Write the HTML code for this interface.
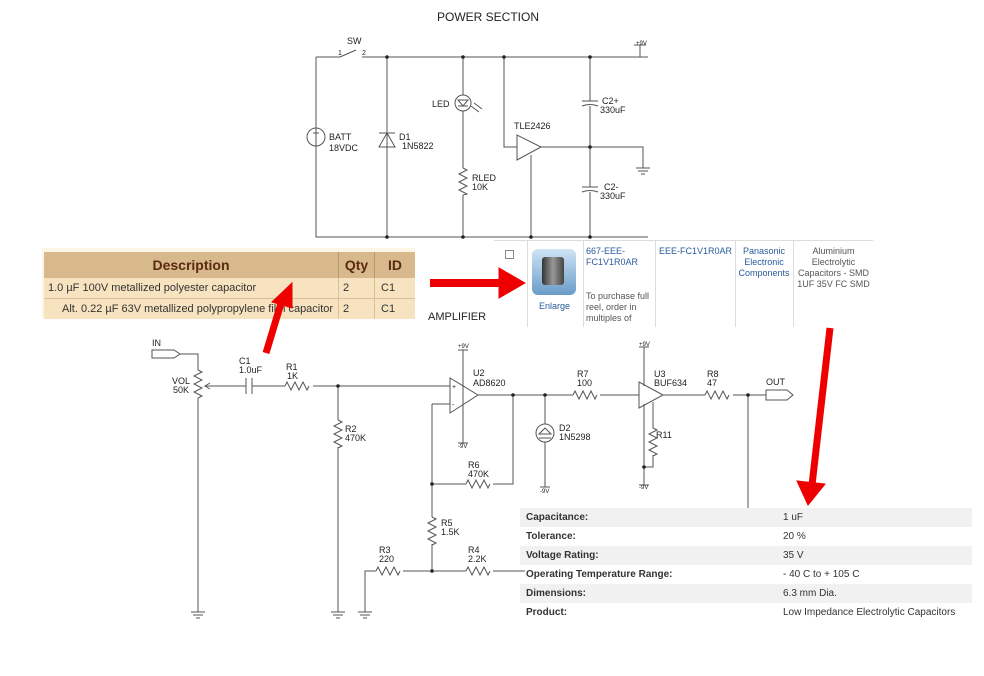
<!DOCTYPE html>
<html><head><meta charset="utf-8"><style>
body{margin:0;background:#fff;width:984px;height:676px;overflow:hidden;position:relative;font-family:"Liberation Sans",Arial,sans-serif}
svg{position:absolute;left:0;top:0}
.t{font-family:"Liberation Sans",Arial,sans-serif;font-size:9px;fill:#222}
.abs{position:absolute}
</style></head><body>
<svg width="984" height="676" viewBox="0 0 984 676">
<g stroke="#555" stroke-width="1" fill="none">
<!-- POWER -->
<path d="M316 57 H340 M362 57 H648 M340 57 L356 50 M316 57 V237 H648"/>
<circle cx="316" cy="137" r="9"/>
<path d="M316 130 v5 M313 133 h6 M316 140 v4"/>
<path d="M387 57 V237 M379 133 h16 M379 147 h16 l-8 -14 z"/>
<path d="M463 57 V95 M463 111 V168 M463 195 V237"/>
<circle cx="463" cy="103" r="8"/>
<path d="M458 100 h10 l-5 6 z M458 106 h10 M471 106 l8 6 M474 103 l8 6"/>
<path d="M463 168 l4 2 l-8 4 l8 4 l-8 4 l8 4 l-8 4 l8 4 l-4 1"/>
<path d="M504 57 V147 H517 M517 135 V160 L541 147 Z M541 147 H643 V168 M636 168 h14 M638 171 h10 M641 174 h4 M531 155 V237"/>
<path d="M590 57 V101 M582 101 h16 M582 106 q8 -3 16 0 M590 106 V187 M582 187 h16 M582 192 q8 -3 16 0 M590 192 V237"/>
<path d="M640 45 V57 M634 45 h12"/>
<!-- AMPLIFIER -->
<path d="M152 350 h22 l6 4 l-6 4 h-22 z M180 354 H198 V370 M198 398 V612 M191 612 h14 M193 615 h10 M196 618 h4"/>
<path d="M198 370 l4 2 l-8 4 l8 4 l-8 4 l8 4 l-8 4 l8 4 l-4 2"/>
<path d="M246 386 H205 l5 -3 M205 386 l5 3 M246 378 v16 M252 378 v16 M252 386 H285 M313 386 H450"/>
<path d="M285 386 l2 -4 l4 8 l4 -8 l4 8 l4 -8 l4 8 l2 -4"/>
<path d="M338 386 V420 M338 447 V612 M331 612 h14 M333 615 h10 M336 618 h4"/>
<path d="M338 420 l4 2 l-8 4 l8 4 l-8 4 l8 4 l-8 4 l8 4 l-4 2"/>
<path d="M450 378 V413 L478 395 Z M432 404 H450 M463 350 V443 M458 350 h10 M458 443 h10"/>
<path d="M478 395 H573 M513 395 V484 H493 M466 484 H432 V404 M432 484 V517 M432 544 V571"/>
<path d="M466 484 l2 -4 l4 8 l4 -8 l4 8 l4 -8 l4 8 l2 -4"/>
<path d="M432 517 l4 2 l-8 4 l8 4 l-8 4 l8 4 l-8 4 l8 4 l-4 2"/>
<path d="M365 612 V571 H376 M403 571 H466 M493 571 H525 M358 612 h14 M360 615 h10 M363 618 h4"/>
<path d="M376 571 l2 -4 l4 8 l4 -8 l4 8 l4 -8 l4 8 l2 -4"/>
<path d="M466 571 l2 -4 l4 8 l4 -8 l4 8 l4 -8 l4 8 l2 -4"/>
<path d="M545 395 V424 M545 442 V487 M540 487 h10"/>
<circle cx="545" cy="433" r="9"/>
<path d="M539 434 h12 l-6 -6 z M539 438 h12"/>
<path d="M573 395 l2 -4 l4 8 l4 -8 l4 8 l4 -8 l4 8 l2 -4 M600 395 H639"/>
<path d="M639 382 V408 L663 395 Z M644 347 V386 M639 347 h10 M644 404 V485 M639 485 h10 M653 402 V428 M653 455 V467 H644"/>
<path d="M653 428 l4 2 l-8 4 l8 4 l-8 4 l8 4 l-8 4 l8 4 l-4 2"/>
<path d="M663 395 H705 M733 395 H766 M748 395 V510 M766 390 h21 l6 5 l-6 5 h-21 z"/>
<path d="M705 395 l2 -4 l4 8 l4 -8 l4 8 l4 -8 l4 8 l2 -4"/>
</g>
<g fill="#222">
<circle cx="387" cy="57" r="1.8"/><circle cx="463" cy="57" r="1.8"/><circle cx="504" cy="57" r="1.8"/><circle cx="590" cy="57" r="1.8"/>
<circle cx="387" cy="237" r="1.8"/><circle cx="463" cy="237" r="1.8"/><circle cx="531" cy="237" r="1.8"/><circle cx="590" cy="237" r="1.8"/><circle cx="590" cy="147" r="1.8"/>
<circle cx="338" cy="386" r="1.8"/><circle cx="513" cy="395" r="1.8"/><circle cx="545" cy="395" r="1.8"/><circle cx="432" cy="484" r="1.8"/><circle cx="432" cy="571" r="1.8"/><circle cx="644" cy="467" r="1.8"/><circle cx="748" cy="395" r="1.8"/>
</g>
<g class="t">
<text x="437" y="21" font-size="12">POWER SECTION</text>
<text x="347" y="44">SW</text><text x="338" y="55" font-size="7">1</text><text x="362" y="55" font-size="7">2</text>
<text x="636" y="45" font-size="6">+9V</text>
<text x="329" y="140">BATT</text><text x="329" y="151">18VDC</text>
<text x="399" y="140">D1</text><text x="402" y="149">1N5822</text>
<text x="432" y="107">LED</text>
<text x="472" y="181">RLED</text><text x="472" y="190">10K</text>
<text x="514" y="129">TLE2426</text>
<text x="602" y="104">C2+</text><text x="600" y="113">330uF</text>
<text x="604" y="190">C2-</text><text x="600" y="199">330uF</text>
<text x="428" y="320" font-size="11">AMPLIFIER</text>
<text x="152" y="346">IN</text>
<text x="172" y="384">VOL</text><text x="173" y="393">50K</text>
<text x="239" y="364">C1</text><text x="239" y="373">1.0uF</text>
<text x="286" y="370">R1</text><text x="287" y="379">1K</text>
<text x="345" y="432">R2</text><text x="345" y="441">470K</text>
<text x="458" y="348" font-size="6">+9V</text><text x="458" y="448" font-size="6">-9V</text>
<text x="473" y="376">U2</text><text x="473" y="386">AD8620</text>
<text x="452" y="389" font-size="7">+</text><text x="452" y="407" font-size="7">-</text>
<text x="468" y="468">R6</text><text x="468" y="477">470K</text>
<text x="441" y="526">R5</text><text x="441" y="535">1.5K</text>
<text x="379" y="553">R3</text><text x="379" y="562">220</text>
<text x="468" y="553">R4</text><text x="468" y="562">2.2K</text>
<text x="559" y="431">D2</text><text x="559" y="440">1N5298</text>
<text x="540" y="493" font-size="6">-9V</text>
<text x="577" y="377">R7</text><text x="577" y="386">100</text>
<text x="639" y="346" font-size="6">+9V</text><text x="639" y="489" font-size="6">-9V</text>
<text x="654" y="377">U3</text><text x="654" y="386">BUF634</text>
<text x="656" y="438">R11</text>
<text x="707" y="377">R8</text><text x="707" y="386">47</text>
<text x="766" y="385">OUT</text>
</g>
</svg>

<div class="abs" style="left:42px;top:248px;width:373px;height:70px;background:#fdf5e6"></div>
<div class="abs" style="left:44px;top:252px;width:371px;height:66px;font-size:11px;color:#333">
 <div style="display:flex;height:26px;background:#d8b98c;font-weight:bold;font-size:14px;color:#5a2a10;line-height:26px">
  <div style="width:294px;text-align:center;border-right:1px solid #b89a70">Description</div>
  <div style="width:35px;text-align:center;border-right:1px solid #b89a70">Qty</div>
  <div style="width:40px;text-align:center">ID</div></div>
 <div style="display:flex;height:20px;background:#f7e3bf;line-height:20px;border-bottom:1px solid #d8c09a">
  <div style="width:290px;padding-left:4px;border-right:1px solid #d8c09a">1.0 µF 100V metallized polyester capacitor</div>
  <div style="width:31px;padding-left:4px;border-right:1px solid #d8c09a">2</div><div style="padding-left:6px">C1</div></div>
 <div style="display:flex;height:20px;background:#f7e3bf;line-height:20px">
  <div style="width:276px;padding-left:18px;border-right:1px solid #d8c09a">Alt. 0.22 µF 63V metallized polypropylene film capacitor</div>
  <div style="width:31px;padding-left:4px;border-right:1px solid #d8c09a">2</div><div style="padding-left:6px">C1</div></div>
</div>

<div class="abs" style="left:494px;top:240px;width:379px;height:87px;background:#fff;font-size:9px;color:#2a5a9a;line-height:11px">
 <div class="abs" style="left:0;top:0;width:379px;height:87px;border-top:1px solid #ddd"></div>
 <div class="abs" style="left:33px;top:0;width:1px;height:87px;background:#ddd"></div>
 <div class="abs" style="left:89px;top:0;width:1px;height:87px;background:#ddd"></div>
 <div class="abs" style="left:161px;top:0;width:1px;height:87px;background:#ddd"></div>
 <div class="abs" style="left:241px;top:0;width:1px;height:87px;background:#ddd"></div>
 <div class="abs" style="left:299px;top:0;width:1px;height:87px;background:#ddd"></div>
 <div class="abs" style="left:11px;top:10px;width:7px;height:7px;border:1px solid #888"></div>
 <div class="abs" style="left:38px;top:9px;width:44px;height:46px;border-radius:6px;background:linear-gradient(#cfe4f5,#6a9cc8)"></div>
 <div class="abs" style="left:48px;top:17px;width:22px;height:28px;border-radius:3px;background:linear-gradient(90deg,#333,#999,#444)"></div>
 <div class="abs" style="left:45px;top:61px">Enlarge</div>
 <div class="abs" style="left:92px;top:6px">667-EEE-<br>FC1V1R0AR</div>
 <div class="abs" style="left:92px;top:51px;color:#555">To purchase full<br>reel, order in<br>multiples of</div>
 <div class="abs" style="left:165px;top:6px">EEE-FC1V1R0AR</div>
 <div class="abs" style="left:242px;top:6px;width:56px;text-align:center">Panasonic<br>Electronic<br>Components</div>
 <div class="abs" style="left:300px;top:6px;width:79px;text-align:center;color:#555">Aluminium<br>Electrolytic<br>Capacitors - SMD<br>1UF 35V FC SMD</div>
</div>

<div class="abs" style="left:520px;top:508px;width:452px;font-size:10px;color:#333">
 <div style="height:19px;line-height:19px;background:#f1f1f1;display:flex"><b style="width:257px;padding-left:6px">Capacitance:</b><span>1 uF</span></div>
 <div style="height:19px;line-height:19px;display:flex"><b style="width:257px;padding-left:6px">Tolerance:</b><span>20 %</span></div>
 <div style="height:19px;line-height:19px;background:#f1f1f1;display:flex"><b style="width:257px;padding-left:6px">Voltage Rating:</b><span>35 V</span></div>
 <div style="height:19px;line-height:19px;display:flex"><b style="width:257px;padding-left:6px">Operating Temperature Range:</b><span>- 40 C to + 105 C</span></div>
 <div style="height:19px;line-height:19px;background:#f1f1f1;display:flex"><b style="width:257px;padding-left:6px">Dimensions:</b><span>6.3 mm Dia.</span></div>
 <div style="height:19px;line-height:19px;display:flex"><b style="width:257px;padding-left:6px">Product:</b><span>Low Impedance Electrolytic Capacitors</span></div>
</div>

<svg width="984" height="676" viewBox="0 0 984 676">
<g fill="#ee0000" stroke="#ee0000">
<path d="M266 353 L282 300" stroke-width="7"/><path d="M292 283 L272 302 L292 308 Z"/>
<path d="M430 283 H505" stroke-width="8"/><path d="M525 283 L499 268 L499 298 Z"/>
<path d="M830 328 L812 485" stroke-width="7"/><path d="M808 505 L797 481 L825 484 Z"/>
</g>
</svg>
</body></html>
